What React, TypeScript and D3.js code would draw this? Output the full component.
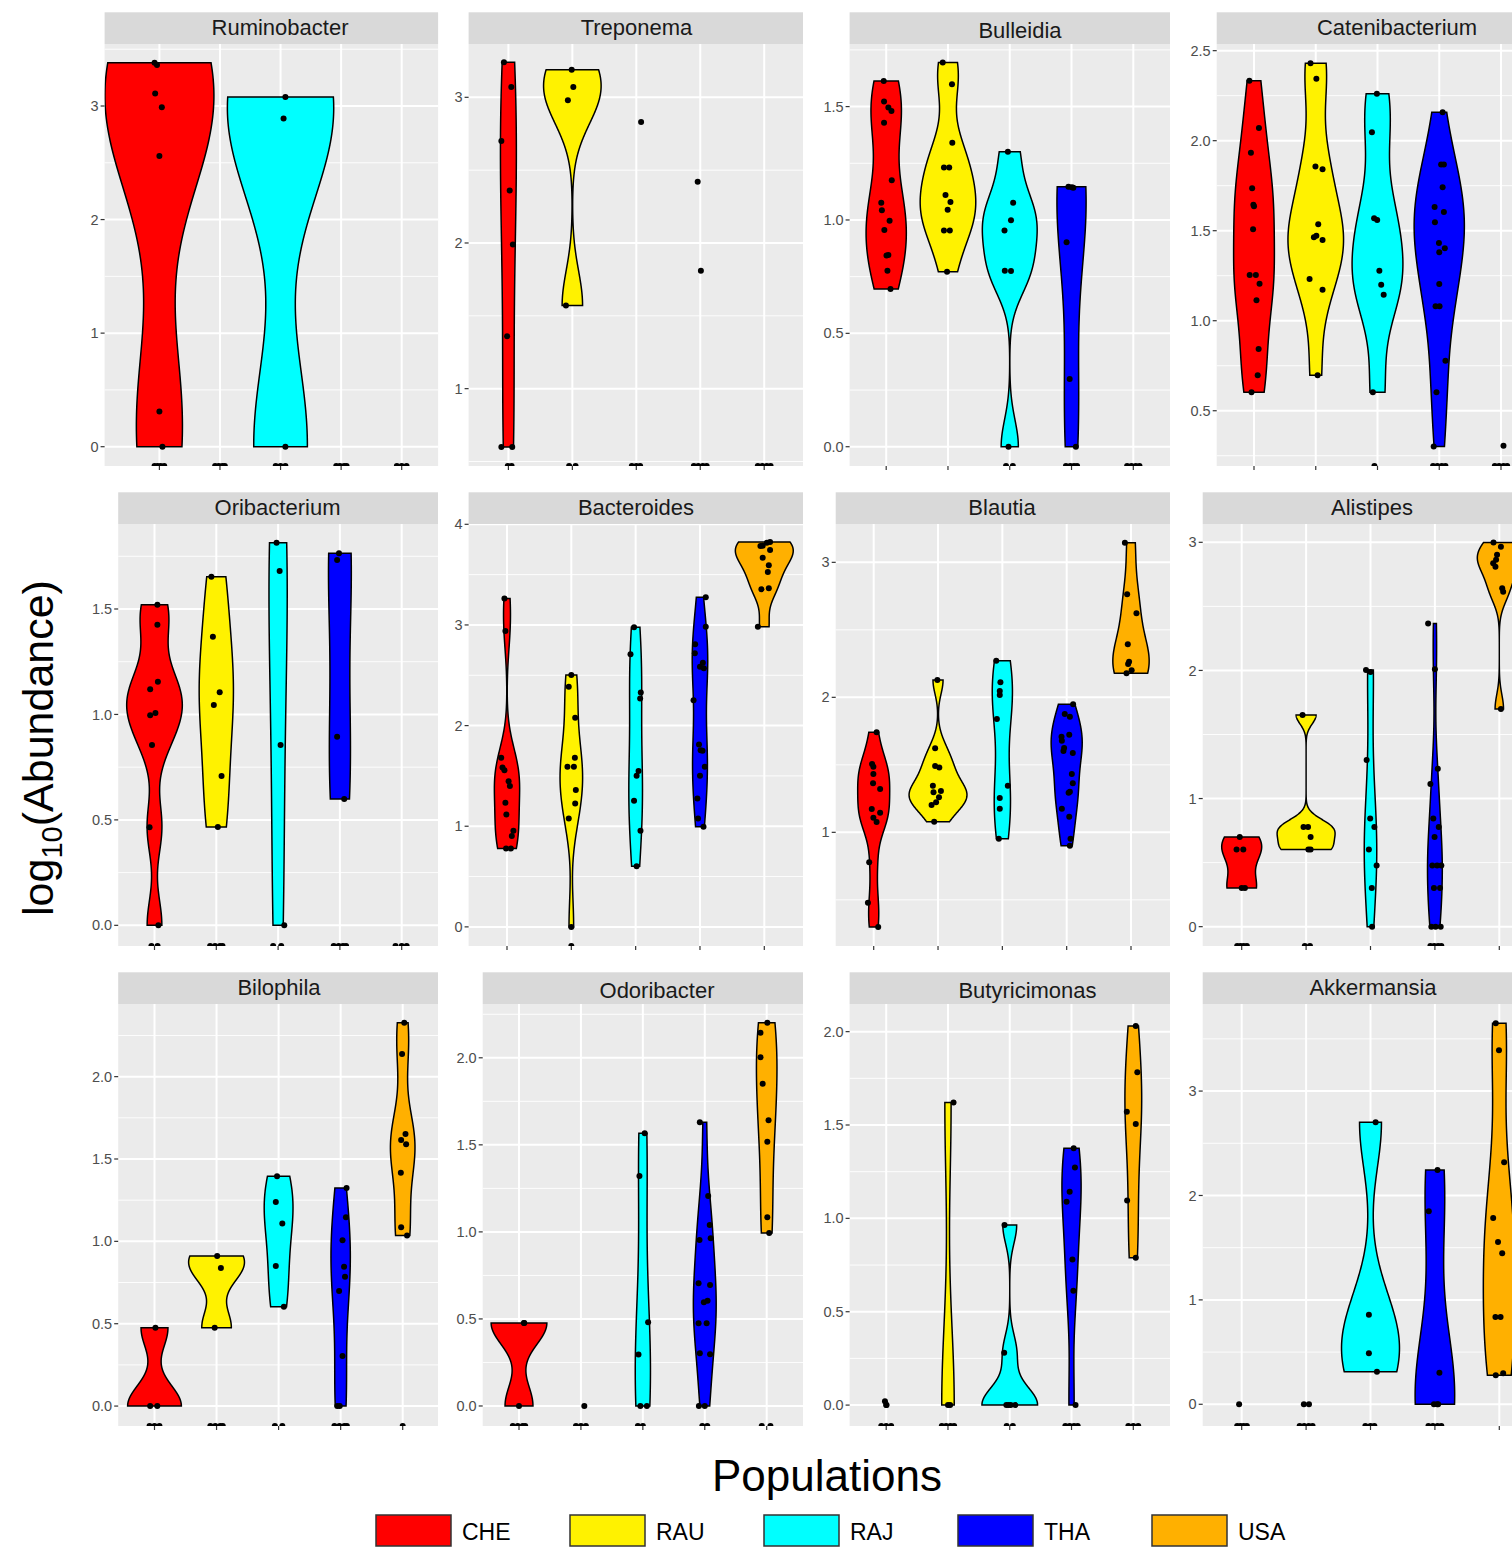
import React from "react";
import * as d3 from "d3";

const populations = ["CHE", "RAU", "RAJ", "THA", "USA"];
const popColors = ["#ff0000", "#fff200", "#00ffff", "#0000ff", "#ffb000"];

// each point: [log10 abundance, horizontal jitter in category units]
// zeros: horizontal jitter of samples with zero counts (drawn at -Inf)
const ruminobacter = [
  [[3.38, -0.08], [3.36, -0.04], [3.11, -0.07], [2.99, 0.04], [2.56, 0], [0.31, 0], [0, 0.05]],
  [],
  [[3.08, 0.08], [2.89, 0.05], [0, 0.08]],
  [],
  [],
];
const ruminobacterZeros = [[-0.08, -0.03, 0.02, 0.08], [-0.08, -0.02, 0.04, 0.08], [-0.08, 0, 0.08], [-0.08, -0.02, 0.05, 0.09], [-0.08, 0, 0.08]];
const ruminobacterTicks = [0, 1, 2, 3];

const treponema = [
  [[3.24, -0.07], [3.07, 0.045], [2.7, -0.11], [2.36, 0.02], [1.99, 0.07], [1.36, -0.02], [0.6, -0.11], [0.6, 0.06]],
  [[3.19, -0.01], [3.07, 0.015], [2.98, -0.07], [1.57, -0.1]],
  [[2.83, 0.075]],
  [[2.42, -0.04], [1.81, 0.01]],
  [],
];
const treponemaZeros = [[-0.01, 0.05], [-0.05, 0.05], [-0.07, 0, 0.06], [-0.1, -0.03, 0.04, 0.1], [-0.1, -0.03, 0.04, 0.1]];
const treponemaTicks = [1, 2, 3];

const bulleidia = [
  [[1.613, -0.04], [1.522, -0.035], [1.496, 0.035], [1.481, 0.085], [1.429, -0.035], [1.175, 0.09], [1.076, -0.08], [1.043, -0.07], [0.997, 0.055], [0.956, -0.03], [0.846, 0.035], [0.843, 0.005], [0.776, 0.02], [0.696, 0.07]],
  [[1.694, -0.085], [1.599, 0.065], [1.341, 0.07], [1.231, -0.065], [1.231, 0.02], [1.11, -0.04], [1.079, 0.04], [1.045, -0.005], [0.953, -0.065], [0.953, 0.03], [0.772, -0.015]],
  [[1.301, -0.03], [1.076, 0.055], [0.999, 0.02], [0.953, -0.085], [0.776, -0.08], [0.775, 0.02], [0, -0.02]],
  [[1.147, -0.05], [1.144, 0.005], [1.142, 0.03], [0.902, -0.08], [0.299, -0.03], [0, 0.07]],
  [],
];
const bulleidiaZeros = [[], [], [-0.06, 0.05], [-0.09, -0.02, 0.04, 0.09], [-0.1, -0.03, 0.04, 0.1]];
const bulleidiaTicks = [0, 0.5, 1, 1.5];

const catenibacterium = [
  [[2.333, -0.075], [2.071, 0.08], [1.933, -0.05], [1.736, -0.03], [1.644, -0.01], [1.636, 0], [1.508, -0.015], [1.254, -0.07], [1.254, 0.03], [1.206, 0.09], [1.113, 0.04], [0.843, 0.075], [0.697, 0.06], [0.602, -0.04]],
  [[2.43, -0.085], [2.344, 0.01], [1.856, -0.005], [1.841, 0.11], [1.536, 0.04], [1.463, -0.03], [1.472, 0.01], [1.448, 0.11], [1.232, -0.1], [1.172, 0.11], [0.697, 0.03]],
  [[2.261, -0.01], [2.047, -0.09], [1.569, -0.055], [1.559, -0.005], [1.278, 0.03], [1.2, 0.06], [1.144, 0.1], [0.602, -0.075]],
  [[2.158, 0.055], [1.867, 0.03], [1.867, 0.075], [1.741, 0.055], [1.632, -0.075], [1.604, 0.075], [1.547, -0.07], [1.432, -0.005], [1.402, 0.09], [1.38, 0], [1.204, 0], [1.08, -0.06], [1.08, 0.005], [0.778, 0.1], [0.602, -0.045], [0.301, -0.09]],
  [[0.305, 0.04]],
];
const catenibacteriumZeros = [[], [], [-0.05], [-0.1, -0.03, 0.04, 0.1], [-0.1, -0.03, 0.04, 0.1]];
const catenibacteriumTicks = [0.5, 1, 1.5, 2, 2.5];

const oribacterium = [
  [[1.52, 0.047], [1.425, 0.047], [1.155, 0.055], [1.12, -0.07], [0.996, -0.07], [1.007, 0.015], [0.855, -0.04], [0.465, -0.08], [0, 0.063]],
  [[1.653, -0.08], [1.368, -0.055], [1.105, 0.055], [1.045, -0.04], [0.708, 0.085], [0.466, 0.025]],
  [[1.814, -0.025], [1.68, 0.025], [0.855, 0.04], [0, 0.1]],
  [[1.764, -0.015], [1.732, -0.045], [0.894, -0.045], [0.599, 0.07]],
  [],
];
const oribacteriumZeros = [[-0.05, 0.05], [-0.1, -0.02, 0.06, 0.1], [-0.08, 0.05], [-0.1, -0.02, 0.05, 0.1], [-0.1, 0, 0.08]];
const oribacteriumTicks = [0, 0.5, 1, 1.5];

const bacteroides = [
  [[3.264, -0.04], [2.939, -0.025], [1.68, -0.09], [1.584, -0.07], [1.557, -0.04], [1.448, 0.025], [1.399, 0.045], [1.233, -0.025], [1.117, -0.01], [0.954, 0.1], [0.902, 0.075], [0.779, -0.015], [0.779, 0.06]],
  [[2.502, 0], [2.386, -0.04], [2.078, 0.06], [1.68, 0.055], [1.59, -0.06], [1.59, 0.04], [1.359, 0.07], [1.227, 0.06], [1.078, -0.04], [0, 0]],
  [[2.976, -0.025], [2.708, -0.08], [2.33, 0.08], [2.27, 0.07], [1.548, 0.045], [1.501, 0.015], [1.253, -0.025], [0.954, 0.075], [0.603, 0.015]],
  [[3.274, 0.09], [2.982, 0.09], [2.807, -0.075], [2.718, -0.08], [2.624, 0.045], [2.585, 0], [2.569, 0.06], [2.253, -0.1], [1.813, -0.015], [1.756, 0.01], [1.75, 0.04], [1.59, 0.075], [1.501, 0], [1.276, -0.04], [1.078, -0.03], [0.994, 0.055]],
  [[3.785, -0.06], [3.668, -0.025], [3.745, 0.09], [3.824, 0.09], [3.817, 0.04], [3.788, -0.025], [3.593, 0.07], [3.526, 0.055], [3.354, -0.045], [3.364, 0.07], [2.982, -0.1]],
];
const bacteroidesZeros = [[], [0], [], [], []];
const bacteroidesTicks = [0, 1, 2, 3, 4];

const blautia = [
  [[1.741, 0.045], [1.506, -0.025], [1.486, -0.005], [1.432, -0.005], [1.363, -0.01], [1.321, 0.1], [1.173, -0.03], [1.145, 0.1], [1.108, -0.005], [1.076, 0.045], [0.778, -0.07], [0.479, -0.09], [0.299, 0.07]],
  [[2.128, -0.01], [1.622, -0.045], [1.491, -0.045], [1.481, 0.02], [1.345, -0.08], [1.306, 0.045], [1.296, -0.07], [1.259, 0.015], [1.222, -0.03], [1.202, -0.1], [1.079, -0.06]],
  [[2.271, -0.095], [2.111, -0.03], [2.047, -0.04], [2.017, -0.04], [1.839, -0.085], [1.345, 0.085], [1.254, -0.04], [1.175, -0.04], [0.953, -0.055]],
  [[1.948, 0.1], [1.876, -0.03], [1.856, 0.05], [1.723, 0.04], [1.708, -0.08], [1.679, -0.075], [1.624, -0.04], [1.602, -0.05], [1.587, 0.095], [1.432, 0.08], [1.363, 0.095], [1.301, 0.05], [1.293, 0.03], [1.175, -0.075], [1.116, 0.04], [0.953, 0.06], [0.901, 0.05]],
  [[3.145, -0.095], [2.763, -0.06], [2.622, 0.085], [2.393, -0.05], [2.264, -0.03], [2.247, -0.045], [2.2, 0.01], [2.178, -0.07]],
];
const blautiaZeros = [[], [], [], [], []];
const blautiaTicks = [1, 2, 3];

const alistipes = [
  [[0.699, -0.03], [0.602, -0.08], [0.602, 0.025], [0.301, 0], [0.301, 0.05]],
  [[1.653, -0.055], [0.778, -0.04], [0.778, 0.03], [0.699, 0.07], [0.602, 0.035], [0.602, 0.07]],
  [[2.004, -0.07], [1.988, 0], [1.301, -0.06], [0.845, -0.005], [0.778, 0.06], [0.602, -0.025], [0.477, 0.095], [0.301, 0.02], [0, 0.025]],
  [[2.366, -0.105], [2.009, 0], [1.233, 0.045], [1.114, -0.07], [0.845, -0.025], [0.778, 0.06], [0.699, -0.005], [0.477, -0.04], [0.477, 0.035], [0.477, 0.1], [0.301, -0.015], [0.301, 0.08], [0, -0.055], [0, 0.01], [0, 0.09]],
  [[2.998, -0.09], [2.966, 0.025], [2.902, -0.035], [2.863, -0.05], [2.837, -0.095], [2.81, -0.06], [2.642, 0.045], [2.615, 0.06], [1.699, 0.025]],
];
const alistipesZeros = [[-0.07, -0.02, 0.03, 0.08], [-0.02, 0.06], [], [-0.07, -0.01, 0.05, 0.1], []];
const alistipesTicks = [0, 1, 2, 3];

const bilophila = [
  [[0.475, 0.015], [0, -0.07], [0, 0.045]],
  [[0.911, 0.01], [0.838, 0.07], [0.475, -0.03]],
  [[1.396, -0.025], [1.239, -0.045], [1.109, 0.06], [0.85, -0.045], [0.603, 0.085]],
  [[1.324, 0.095], [1.146, 0.085], [1.006, 0.03], [0.846, 0.055], [0.785, 0.07], [0.698, -0.025], [0.304, 0.03], [0, -0.055], [0, -0.015]],
  [[2.327, 0.025], [2.137, -0.01], [1.651, 0.045], [1.615, -0.025], [1.589, 0.055], [1.417, -0.03], [1.085, -0.025], [1.036, 0.07]],
];
const bilophilaZeros = [[-0.08, 0, 0.08], [-0.1, -0.02, 0.06, 0.1], [-0.06, 0.06], [-0.1, -0.02, 0.06, 0.1], [0]];
const bilophilaTicks = [0, 0.5, 1, 1.5, 2];

const odoribacter = [
  [[0.477, 0.085], [0.477, 0.08], [0, 0]],
  [[0, 0.055]],
  [[1.566, 0.03], [1.321, -0.055], [0.481, 0.085], [0.295, -0.07], [0, -0.04], [0, 0.065]],
  [[1.63, -0.08], [1.206, 0.055], [1.04, 0.08], [0.953, -0.085], [0.963, 0.095], [0.705, -0.1], [0.695, 0.085], [0.596, -0.015], [0.605, 0.045], [0.475, -0.1], [0.475, 0.03], [0.303, -0.08], [0.297, 0.085], [0, -0.095], [0, 0]],
  [[2.202, 0.01], [2.144, -0.1], [2.003, -0.1], [1.851, -0.065], [1.641, 0.03], [1.518, 0.01], [1.084, 0.01], [0.994, 0.04]],
];
const odoribacterZeros = [[-0.1, -0.02, 0.06, 0.1], [-0.08, 0, 0.08], [-0.08, 0], [-0.04, 0.04], [-0.08, 0.06]];
const odoribacterTicks = [0, 0.5, 1, 1.5, 2];

const butyricimonas = [
  [[0.02, -0.02], [0, 0], [0, 0.005]],
  [[1.62, 0.09], [0, 0], [0, 0.035]],
  [[0.964, -0.085], [0.28, -0.09], [0, -0.055], [0, 0.015], [0, 0.09], [0, -0.02]],
  [[1.375, 0.035], [1.273, 0.055], [1.143, -0.03], [1.089, -0.08], [0.78, 0.015], [0.612, 0.03], [0, 0.065]],
  [[2.03, 0.04], [1.782, 0.065], [1.571, -0.105], [1.505, 0.04], [1.096, -0.1], [0.789, 0.04]],
];
const butyricimonasZeros = [[-0.08, 0, 0.08], [-0.1, -0.03, 0.04, 0.1], [-0.05, 0.05], [-0.1, -0.03, 0.04, 0.1], [-0.08, 0, 0.08]];
const butyricimonasTicks = [0, 0.5, 1, 1.5, 2];

const akkermansia = [
  [[0, -0.04]],
  [[0, -0.035], [0, 0.045]],
  [[2.701, 0.08], [0.858, -0.025], [0.488, -0.025], [0.312, 0.1]],
  [[2.244, 0.04], [1.849, -0.095], [0.303, 0.07], [0, 0.05], [0, -0.015], [0, 0.035]],
  [[3.649, -0.055], [3.391, -0.005], [2.318, 0.075], [1.785, -0.095], [1.555, -0.02], [1.446, 0.045], [0.836, -0.06], [0.836, 0.02], [0.278, -0.055], [0.297, 0.06]],
];
const akkermansiaZeros = [[-0.07, -0.02, 0.03, 0.08], [-0.1, -0.03, 0.04, 0.1], [-0.08, 0, 0.06], [-0.1, -0.03, 0.04, 0.1], []];
const akkermansiaTicks = [0, 1, 2, 3];

const genera = [
  { name: "Ruminobacter", pts: ruminobacter, zeros: ruminobacterZeros, ticks: ruminobacterTicks },
  { name: "Treponema", pts: treponema, zeros: treponemaZeros, ticks: treponemaTicks },
  { name: "Bulleidia", pts: bulleidia, zeros: bulleidiaZeros, ticks: bulleidiaTicks },
  { name: "Catenibacterium", pts: catenibacterium, zeros: catenibacteriumZeros, ticks: catenibacteriumTicks },
  { name: "Oribacterium", pts: oribacterium, zeros: oribacteriumZeros, ticks: oribacteriumTicks },
  { name: "Bacteroides", pts: bacteroides, zeros: bacteroidesZeros, ticks: bacteroidesTicks },
  { name: "Blautia", pts: blautia, zeros: blautiaZeros, ticks: blautiaTicks },
  { name: "Alistipes", pts: alistipes, zeros: alistipesZeros, ticks: alistipesTicks },
  { name: "Bilophila", pts: bilophila, zeros: bilophilaZeros, ticks: bilophilaTicks },
  { name: "Odoribacter", pts: odoribacter, zeros: odoribacterZeros, ticks: odoribacterTicks },
  { name: "Butyricimonas", pts: butyricimonas, zeros: butyricimonasZeros, ticks: butyricimonasTicks },
  { name: "Akkermansia", pts: akkermansia, zeros: akkermansiaZeros, ticks: akkermansiaTicks },
];

// where each sub-plot sits on the page (the figure was pasted together, so it is uneven)
const panelBoxes = [
  { left: 104.6, right: 438.1, top: 12.3, bottom: 466, yLo: -0.17, yHi: 3.546, xFirst: 159.4, xLast: 401.7, vw: 1.8, titleX: 280, titleDy: 0 },
  { left: 468.6, right: 803, top: 12.3, bottom: 466, yLo: 0.469, yHi: 3.366, xFirst: 508.4, xLast: 764.2, vw: 0.9, titleX: 636.5, titleDy: 0 },
  { left: 849.6, right: 1170, top: 12.3, bottom: 466, yLo: -0.085, yHi: 1.776, xFirst: 886.2, xLast: 1133.3, vw: 0.9, titleX: 1020, titleDy: 3 },
  { left: 1216.7, right: 1580, top: 12.3, bottom: 466, yLo: 0.193, yHi: 2.537, xFirst: 1254, xLast: 1501, vw: 0.9, titleX: 1397, titleDy: 0 },
  { left: 118.2, right: 438, top: 492.3, bottom: 946, yLo: -0.098, yHi: 1.903, xFirst: 154.5, xLast: 401.7, vw: 0.9, titleX: 277.5, titleDy: 0 },
  { left: 468.6, right: 803, top: 492.3, bottom: 946, yLo: -0.19, yHi: 4.003, xFirst: 507, xLast: 764.3, vw: 0.9, titleX: 636, titleDy: 0 },
  { left: 835.7, right: 1170, top: 492.3, bottom: 946, yLo: 0.158, yHi: 3.284, xFirst: 873.7, xLast: 1131, vw: 0.9, titleX: 1002, titleDy: 0 },
  { left: 1202.7, right: 1580, top: 492.3, bottom: 946, yLo: -0.151, yHi: 3.143, xFirst: 1241.7, xLast: 1499.3, vw: 0.9, titleX: 1372, titleDy: 0 },
  { left: 118.2, right: 438, top: 972.3, bottom: 1426, yLo: -0.121, yHi: 2.441, xFirst: 154.5, xLast: 402.7, vw: 0.9, titleX: 279, titleDy: 0 },
  { left: 482.7, right: 803, top: 972.3, bottom: 1426, yLo: -0.115, yHi: 2.309, xFirst: 519, xLast: 766.7, vw: 0.9, titleX: 657, titleDy: 3 },
  { left: 849.6, right: 1170, top: 972.3, bottom: 1426, yLo: -0.112, yHi: 2.148, xFirst: 886.2, xLast: 1133.3, vw: 0.9, titleX: 1027.5, titleDy: 3 },
  { left: 1202.7, right: 1580, top: 972.3, bottom: 1426, yLo: -0.208, yHi: 3.834, xFirst: 1241.7, xLast: 1499.3, vw: 0.9, titleX: 1373, titleDy: 0 },
];

const W = 1512;
const H = 1547;
const STRIP_H = 31.7;
const FONT = "'Liberation Sans', Arial, Helvetica, sans-serif";

// R's bw.nrd0
function bwNrd0(x) {
  const s = x.slice().sort(d3.ascending);
  const sd = d3.deviation(s) || 0;
  const iqr = d3.quantile(s, 0.75) - d3.quantile(s, 0.25);
  let lo = Math.min(sd, iqr / 1.34);
  if (!lo) lo = sd || Math.abs(s[0]) || 1;
  return 0.9 * lo * Math.pow(s.length, -0.2);
}

// gaussian kde on [min, max] like geom_violin(trim = TRUE)
function violinDensity(vals) {
  const bw = bwNrd0(vals);
  const [lo, hi] = d3.extent(vals);
  const n = vals.length;
  return d3.range(512).map((i) => {
    const y = lo + ((hi - lo) * i) / 511;
    const d = d3.sum(vals, (v) => Math.exp(-0.5 * ((y - v) / bw) ** 2)) / (n * bw * Math.sqrt(2 * Math.PI));
    return { y, d };
  });
}

function Panel({ g, box, idx }) {
  const pt = box.top + STRIP_H;
  const y = d3.scaleLinear().domain([box.yLo, box.yHi]).range([box.bottom, pt]);
  const x = d3.scalePoint().domain(populations).range([box.xFirst, box.xLast]);
  const step = x.step();

  const ticks = g.ticks;
  const s = ticks[1] - ticks[0];
  const minors = d3.range(ticks[0] - s / 2, ticks[ticks.length - 1] + s, s).filter((v) => v > box.yLo && v < box.yHi);
  const fmt = ticks.every((t) => Number.isInteger(t)) ? d3.format("d") : d3.format(".1f");

  // violins, scale = "area": widths relative to the densest group in the panel
  const dens = g.pts.map((grp) => {
    const vals = grp.map((p) => p[0]);
    if (vals.length < 3 || d3.max(vals) - d3.min(vals) < 0.05) return null;
    return violinDensity(vals);
  });
  const maxD = d3.max(dens.filter(Boolean).flat(), (d) => d.d);
  const halfW = (box.vw * step) / 2;

  const clipId = `clip-${idx}`;

  return (
    <g>
      <defs>
        <clipPath id={clipId}>
          <rect x={box.left} y={pt} width={box.right - box.left} height={box.bottom - pt} />
        </clipPath>
      </defs>
      <rect x={box.left} y={pt} width={box.right - box.left} height={box.bottom - pt} fill="#ebebeb" />
      {minors.map((v) => (
        <line key={"m" + v} x1={box.left} x2={box.right} y1={y(v)} y2={y(v)} stroke="#fff" strokeWidth={0.9} />
      ))}
      {ticks.map((v) => (
        <line key={"M" + v} x1={box.left} x2={box.right} y1={y(v)} y2={y(v)} stroke="#fff" strokeWidth={2} />
      ))}
      {populations.map((p) => (
        <line key={"v" + p} x1={x(p)} x2={x(p)} y1={pt} y2={box.bottom} stroke="#fff" strokeWidth={2} />
      ))}
      <g clipPath={`url(#${clipId})`}>
        {dens.map((dd, i) => {
          if (!dd) return null;
          const cx = x(populations[i]);
          const area = d3
            .area()
            .y((d) => y(d.y))
            .x0((d) => cx - (d.d / maxD) * halfW)
            .x1((d) => cx + (d.d / maxD) * halfW);
          return <path key={"vio" + i} d={area(dd) + "Z"} fill={popColors[i]} stroke="#000" strokeWidth={1.5} />;
        })}
        {g.pts.map((grp, i) =>
          grp.map((p, j) => (
            <circle key={`p${i}-${j}`} cx={x(populations[i]) + p[1] * step} cy={y(p[0])} r={3} fill="#000" />
          ))
        )}
        {g.zeros.map((grp, i) =>
          grp.map((dx, j) => (
            <circle key={`z${i}-${j}`} cx={x(populations[i]) + dx * step} cy={box.bottom} r={3} fill="#000" />
          ))
        )}
      </g>
      {/* strip */}
      <rect x={box.left} y={box.top} width={box.right - box.left} height={STRIP_H} fill="#d9d9d9" />
      <text x={box.titleX} y={box.top + STRIP_H / 2 + 7 + box.titleDy} textAnchor="middle" fontSize={22} fill="#1a1a1a" fontFamily={FONT}>
        {g.name}
      </text>
      {/* y axis */}
      {ticks.map((v) => (
        <g key={"t" + v}>
          <line x1={box.left - 4} x2={box.left} y1={y(v)} y2={y(v)} stroke="#333" strokeWidth={1.2} />
          <text x={box.left - 6} y={y(v)} dy="0.35em" textAnchor="end" fontSize={14.5} fill="#4d4d4d" fontFamily={FONT}>
            {fmt(v)}
          </text>
        </g>
      ))}
      {/* x ticks, no labels */}
      {populations.map((p) => (
        <line key={"xt" + p} x1={x(p)} x2={x(p)} y1={box.bottom} y2={box.bottom + 4} stroke="#333" strokeWidth={1.2} />
      ))}
    </g>
  );
}

export default function App() {
  const legendX = d3.scalePoint().domain(populations).range([376, 1152]);
  return (
    <svg width={W} height={H} style={{ position: "absolute", left: 0, top: 0, background: "#fff" }}>
      <rect x={0} y={0} width={W} height={H} fill="#fff" />
      {genera.map((g, i) => (
        <Panel key={g.name} g={g} box={panelBoxes[i]} idx={i} />
      ))}
      <text transform="translate(53,748) rotate(-90)" textAnchor="middle" fontSize={43} fill="#000" fontFamily={FONT}>
        log
        <tspan fontSize={29} dy={9}>
          10
        </tspan>
        <tspan dy={-9}>(Abundance)</tspan>
      </text>
      <text x={827} y={1491} textAnchor="middle" fontSize={44} fill="#000" fontFamily={FONT}>
        Populations
      </text>
      {populations.map((p, i) => (
        <g key={"lg" + p}>
          <rect x={legendX(p)} y={1515} width={75} height={31} fill={popColors[i]} stroke="#333" strokeWidth={1.5} />
          <text x={legendX(p) + 86} y={1540} fontSize={23} fill="#000" fontFamily={FONT}>
            {p}
          </text>
        </g>
      ))}
    </svg>
  );
}
